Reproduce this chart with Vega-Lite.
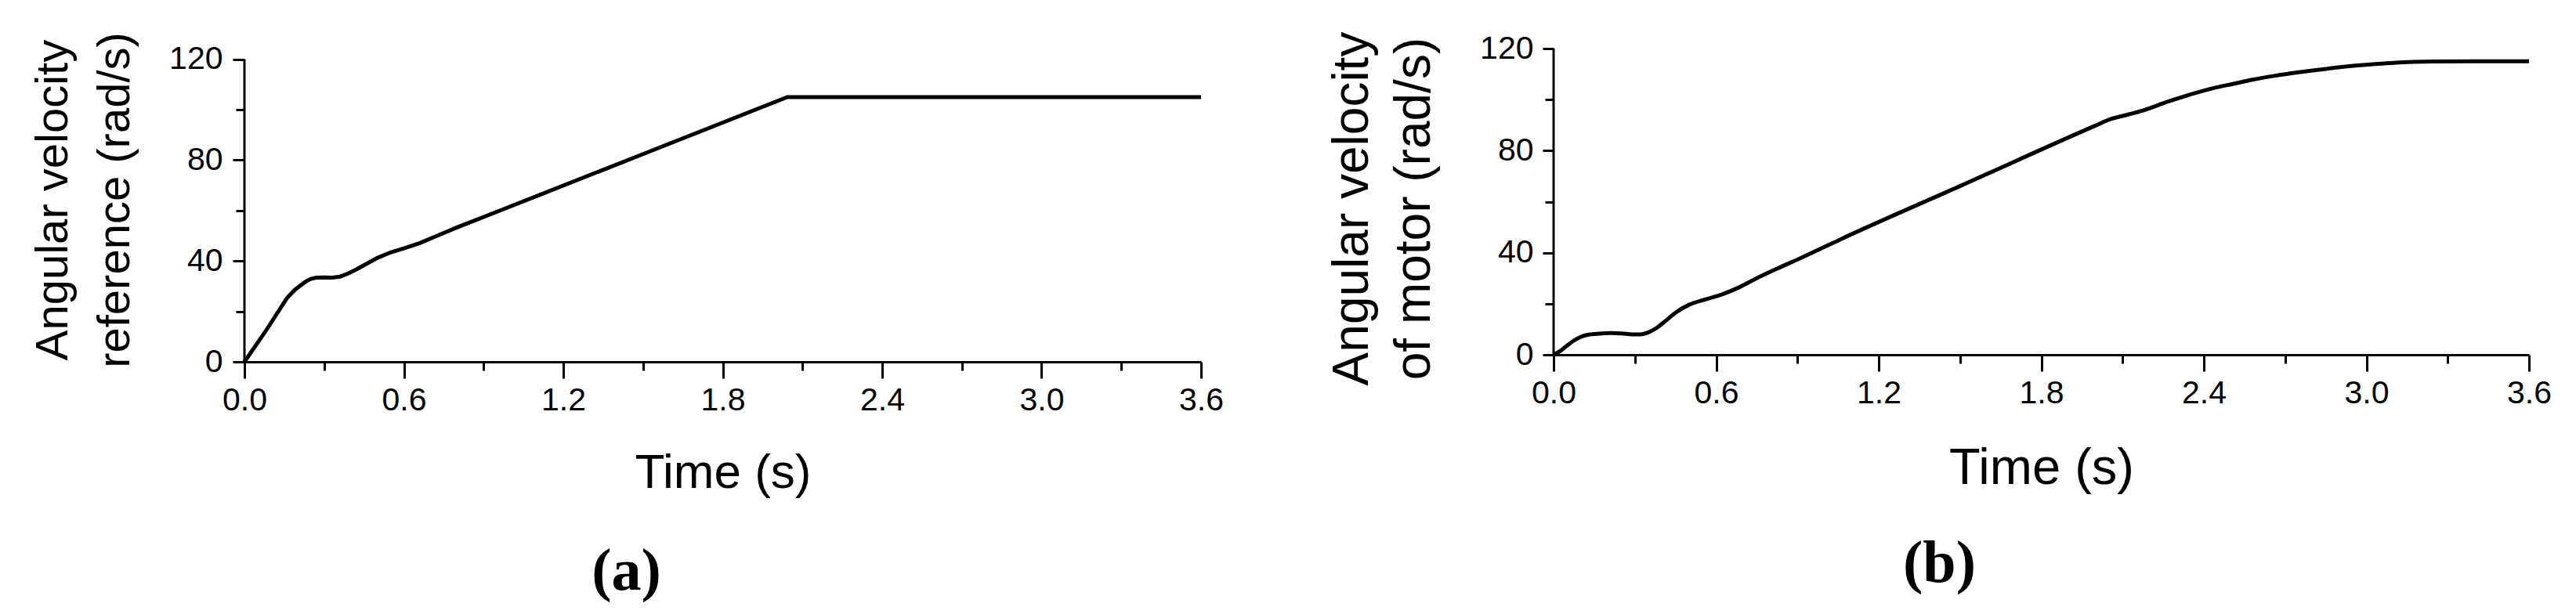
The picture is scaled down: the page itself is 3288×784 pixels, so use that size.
{
  "$schema": "https://vega.github.io/schema/vega-lite/v6.json",
  "autosize": {"type": "none"},
  "padding": {"left": 312, "top": 62, "right": 2976, "bottom": 722},
  "background": "white",
  "bounds": "flush",
  "spacing": 450,
  "config": {
    "view": {"stroke": null},
    "axis": {"grid": false, "tickColor": "black", "domainColor": "black", "labelColor": "black", "titleColor": "black"}
  },
  "datasets": {
    "ref": [
      {"t": 0, "v": 0}, {"t": 0.08, "v": 12.2}, {"t": 0.16, "v": 25.3}, {"t": 0.19, "v": 28.6},
      {"t": 0.21, "v": 30.2}, {"t": 0.23, "v": 31.8}, {"t": 0.25, "v": 32.9}, {"t": 0.27, "v": 33.4},
      {"t": 0.30, "v": 33.5}, {"t": 0.33, "v": 33.4}, {"t": 0.36, "v": 33.8}, {"t": 0.39, "v": 35.0},
      {"t": 0.42, "v": 36.6}, {"t": 0.46, "v": 38.9}, {"t": 0.50, "v": 41.2}, {"t": 0.55, "v": 43.4},
      {"t": 0.60, "v": 45.0}, {"t": 0.66, "v": 47.1}, {"t": 0.72, "v": 49.8}, {"t": 0.80, "v": 53.3},
      {"t": 1.00, "v": 61.6}, {"t": 1.50, "v": 82.4}, {"t": 2.043, "v": 105}, {"t": 3.6, "v": 105}
    ],
    "motor": [
      {"t": 0, "v": 0}, {"t": 0.025, "v": 1.5}, {"t": 0.05, "v": 3.6}, {"t": 0.075, "v": 5.6},
      {"t": 0.1, "v": 7.0}, {"t": 0.13, "v": 7.9}, {"t": 0.17, "v": 8.3}, {"t": 0.21, "v": 8.5},
      {"t": 0.25, "v": 8.4}, {"t": 0.29, "v": 8.0}, {"t": 0.32, "v": 8.0}, {"t": 0.35, "v": 8.8},
      {"t": 0.38, "v": 10.5}, {"t": 0.41, "v": 13.0}, {"t": 0.45, "v": 16.5}, {"t": 0.50, "v": 19.6},
      {"t": 0.56, "v": 21.7}, {"t": 0.62, "v": 23.6}, {"t": 0.68, "v": 26.2}, {"t": 0.75, "v": 30.0},
      {"t": 0.83, "v": 34.0}, {"t": 0.92, "v": 38.3}, {"t": 1.06, "v": 45.3}, {"t": 1.5, "v": 66.1},
      {"t": 2.0, "v": 89.8}, {"t": 2.057, "v": 92.4}, {"t": 2.10, "v": 93.6}, {"t": 2.18, "v": 95.9},
      {"t": 2.27, "v": 99.3}, {"t": 2.36, "v": 102.3}, {"t": 2.44, "v": 104.6}, {"t": 2.51, "v": 106.2},
      {"t": 2.58, "v": 107.8}, {"t": 2.66, "v": 109.3}, {"t": 2.75, "v": 110.7}, {"t": 2.84, "v": 111.9},
      {"t": 2.96, "v": 113.3}, {"t": 3.1, "v": 114.4}, {"t": 3.25, "v": 114.9}, {"t": 3.4, "v": 115.0},
      {"t": 3.6, "v": 115.0}
    ],
    "yline": [{"t": 0, "v": 0, "v2": 120}]
  },
  "hconcat": [
    {
      "width": 1221,
      "height": 400,
      "layer": [
        {
          "data": {"name": "ref"},
          "mark": {"type": "line", "color": "black", "strokeWidth": 5, "interpolate": "linear"},
          "encoding": {
            "x": {"field": "t", "type": "quantitative", "scale": {"domain": [0, 3.6], "nice": false},
              "axis": {"orient": "bottom", "values": [0, 0.6, 1.2, 1.8, 2.4, 3.0, 3.6], "format": ".1f", "tickSize": 21, "tickWidth": 3, "domainWidth": 3, "labelFont": "Liberation Sans", "labelFontSize": 41, "labelPadding": 8, "labelFlush": false, "labelOverlap": false, "title": "Time (s)", "titleFont": "Liberation Sans", "titleFontSize": 62, "titleFontWeight": "normal", "titleBaseline": "alphabetic", "titleY": 160}},
            "y": {"field": "v", "type": "quantitative", "scale": {"domain": [0, 124.26], "nice": false},
              "axis": {"orient": "left", "values": [0, 40, 80, 120], "domain": false, "tickSize": 15, "tickWidth": 3, "labelFont": "Liberation Sans", "labelFontSize": 41, "labelPadding": 13, "labelFlush": false, "labelOverlap": false, "title": ["Angular velocity", "reference (rad/s)"], "titleFont": "Liberation Sans", "titleFontSize": 58, "titleFontWeight": "normal", "titleAngle": -90, "titleBaseline": "alphabetic", "titleAlign": "center", "titleLineHeight": 79, "titleX": -227, "titleY": 193}}
          }
        },
        {
          "data": {"name": "yline"},
          "mark": {"type": "rule", "color": "black", "strokeWidth": 3},
          "encoding": {
            "x": {"field": "t", "type": "quantitative",
              "axis": {"orient": "bottom", "values": [0.3, 0.9, 1.5, 2.1, 2.7, 3.3], "tickSize": 11, "tickWidth": 3, "domain": false, "labels": false, "title": "(a)", "titleFont": "Liberation Serif", "titleFontSize": 76, "titleFontWeight": "bold", "titleBaseline": "alphabetic", "titleAlign": "center", "titleX": 487, "titleY": 290}},
            "y": {"field": "v", "type": "quantitative",
              "axis": {"orient": "left", "values": [20, 60, 100], "tickSize": 11, "tickWidth": 3, "domain": false, "labels": false, "title": null}},
            "y2": {"field": "v2"}
          }
        }
      ],
      "resolve": {"axis": {"x": "independent", "y": "independent"}}
    },
    {
      "width": 1245,
      "height": 391,
      "layer": [
        {
          "data": {"name": "motor"},
          "mark": {"type": "line", "color": "black", "strokeWidth": 5, "interpolate": "monotone"},
          "encoding": {
            "x": {"field": "t", "type": "quantitative", "scale": {"domain": [0, 3.6], "nice": false},
              "axis": {"orient": "bottom", "values": [0, 0.6, 1.2, 1.8, 2.4, 3.0, 3.6], "format": ".1f", "tickSize": 21, "tickWidth": 3, "domainWidth": 3, "labelFont": "Liberation Sans", "labelFontSize": 41, "labelPadding": 8, "labelFlush": false, "labelOverlap": false, "title": "Time (s)", "titleFont": "Liberation Sans", "titleFontSize": 65, "titleFontWeight": "normal", "titleBaseline": "alphabetic", "titleY": 164}},
            "y": {"field": "v", "type": "quantitative", "scale": {"domain": [0, 120], "nice": false},
              "axis": {"orient": "left", "values": [0, 40, 80, 120], "domain": false, "tickSize": 14, "tickWidth": 3, "labelFont": "Liberation Sans", "labelFontSize": 41, "labelPadding": 12, "labelFlush": false, "labelOverlap": false, "title": ["Angular velocity", "of motor (rad/s)"], "titleFont": "Liberation Sans", "titleFontSize": 64, "titleFontWeight": "normal", "titleAngle": -90, "titleBaseline": "alphabetic", "titleAlign": "center", "titleLineHeight": 79, "titleX": -238, "titleY": 204}}
          }
        },
        {
          "data": {"name": "yline"},
          "mark": {"type": "rule", "color": "black", "strokeWidth": 3},
          "encoding": {
            "x": {"field": "t", "type": "quantitative",
              "axis": {"orient": "bottom", "values": [0.3, 0.9, 1.5, 2.1, 2.7, 3.3], "tickSize": 11, "tickWidth": 3, "domain": false, "labels": false, "title": "(b)", "titleFont": "Liberation Serif", "titleFontSize": 76, "titleFontWeight": "bold", "titleBaseline": "alphabetic", "titleAlign": "center", "titleX": 492, "titleY": 289}},
            "y": {"field": "v", "type": "quantitative",
              "axis": {"orient": "left", "values": [20, 60, 100], "tickSize": 11, "tickWidth": 3, "domain": false, "labels": false, "title": null}},
            "y2": {"field": "v2"}
          }
        }
      ],
      "resolve": {"axis": {"x": "independent", "y": "independent"}}
    }
  ]
}
